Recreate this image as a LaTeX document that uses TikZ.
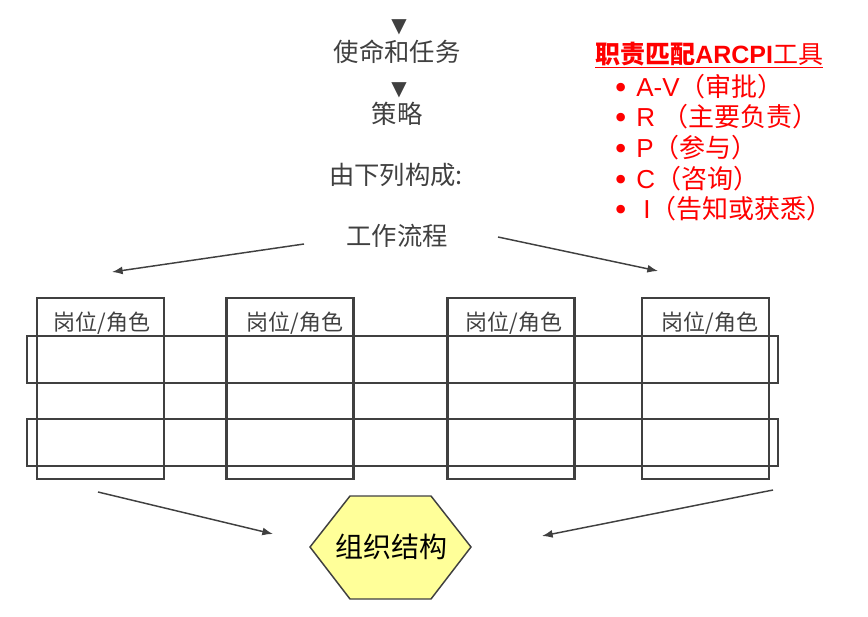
\documentclass[tikz,border=0pt]{standalone}
\usepackage{fontspec}
\setmainfont{Noto Sans CJK SC}
\newfontfamily\arialfont{Liberation Sans}
\newfontfamily\symbfont{DejaVu Sans}
\usetikzlibrary{arrows.meta}
\definecolor{inkgrey}{HTML}{404040}
\definecolor{hexfill}{HTML}{FFFF99}
\definecolor{toolred}{HTML}{FF0000}

\begin{document}
\begin{tikzpicture}[x=0.75pt,y=-0.75pt,
  heading/.style={text=inkgrey,font=\fontsize{19}{19}\selectfont,inner sep=0pt},
  pointer/.style={text=inkgrey,font=\symbfont\fontsize{15}{15}\selectfont,inner sep=0pt},
  rolelabel/.style={text=inkgrey,font=\fontsize{16.5}{16.5}\selectfont,inner sep=0pt},
  rolebox/.style={draw=inkgrey,line width=1.6pt,minimum width=95.25pt,minimum height=135.75pt,inner sep=0pt},
  rowbox/.style={draw=inkgrey,line width=1.6pt,minimum width=563.25pt,minimum height=35.25pt,inner sep=0pt},
  flow/.style={draw=inkgrey,line width=1.1pt,-{Latex[length=8pt,width=6pt]}},
  tool/.style={text=toolred,font=\fontsize{19.5}{19.5}\selectfont,inner sep=0pt,anchor=west}]
\useasboundingbox (0,0) rectangle (868,617);

% top of the chain
\node[pointer] (p1) at (399,27) {▼};
\node[heading] (mission) at (397,52) {使命和任务};
\node[pointer] (p2) at (399,90) {▼};
\node[heading] (strategy) at (397,114) {策略};
\node[heading] (made) at (396,175) {由下列构成:};
\node[heading] (process) at (397,236) {工作流程};

% positions and rows
\node[rolebox] (r1) at (100.5,388.5) {};
\node[rolebox] (r2) at (290,388.5) {};
\node[rolebox] (r3) at (511,388.5) {};
\node[rolebox] (r4) at (705.5,388.5) {};
\node[rowbox] (row1) at (402.5,359.5) {};
\node[rowbox] (row2) at (402.5,442.5) {};
\node[rolelabel] (l1) at (102,323) {岗位/角色};
\node[rolelabel] (l2) at (295,323) {岗位/角色};
\node[rolelabel] (l3) at (514,323) {岗位/角色};
\node[rolelabel] (l4) at (710,323) {岗位/角色};

% organisation
\filldraw[fill=hexfill,draw=inkgrey,line width=1.1pt]
  (310,547) -- (350,496) -- (431,496) -- (471,547) -- (431,599) -- (350,599) -- cycle;
\node[text=black,font=\fontsize{21}{21}\selectfont,inner sep=0pt] (org) at (391,547) {组织结构};

\coordinate (pl) at (304,244);
\coordinate (pr) at (498,237);
\coordinate (ql) at (112,272);
\coordinate (qr) at (658,271);
\coordinate (bl) at (98,492);
\coordinate (br) at (773,490);
\coordinate (hl) at (273,534);
\coordinate (hr) at (542,536);
\draw[flow] (pl) -- (ql);
\draw[flow] (pr) -- (qr);
\draw[flow] (bl) -- (hl);
\draw[flow] (br) -- (hr);

% ARCPI tool
\node[tool,font=\fontsize{18.75}{18.75}\selectfont] (tooltitle) at (595,55)
  {\underline{\textbf{职责匹配}{\arialfont\bfseries ARCPI}工具}};
\foreach \y/\txt in {87/{{\arialfont A-V}（审批）},117/{{\arialfont R }（主要负责）},
  148/{{\arialfont P}（参与）},179/{{\arialfont C}（咨询）},209/{{\arialfont\ I}（告知或获悉）}}{
  \node[text=toolred,font=\symbfont\fontsize{22}{22}\selectfont,inner sep=0pt] at (621,\y+4) {•};
  \node[tool] at (636,\y) {\txt};
}
\end{tikzpicture}
\end{document}
